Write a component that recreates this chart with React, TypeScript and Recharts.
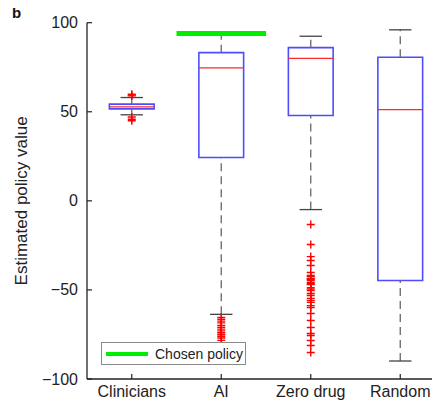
import React from "react";
import {
  ComposedChart,
  XAxis,
  YAxis,
  Scatter,
  ReferenceArea,
  ReferenceLine,
  Legend,
} from "recharts";

const categories = ["Clinicians", "AI", "Zero drug", "Random"];
const q1 = [51.6, 24.3, 47.9, -44.7];
const medians = [52.7, 74.6, 80, 51.2];
const q3 = [54.3, 83.2, 86, 80.6];
const whiskerLow = [48.3, -63.7, -4.9, -89.9];
const whiskerHigh = [58, 94, 92.4, 96];

const clinicianOutliers = [58.9, 59.4, 59.8, 47.1, 45.8, 45];
const aiOutliers = [-65.4, -66.5, -67.5, -68.5, -70, -71, -72, -73, -74, -75, -76, -77, -78.3];
const zeroDrugOutliers = [
  -13.3, -24.5, -31.3, -33.5, -36.3, -40.2, -41.9, -42.5, -43.6, -44, -44.7, -45.8,
  -46.5, -47, -48.7, -49.5, -50.3, -52, -53.1, -54.8, -56, -57, -58.8, -59.9, -63.2,
  -67.2, -71.1, -74.5, -75.6, -78.4, -81.2, -85.1,
];
const randomOutliers: number[] = [];
const outlierGroups = [clinicianOutliers, aiOutliers, zeroDrugOutliers, randomOutliers];

const chosenPolicyValue = 94;
const chosenPolicyFrom = 1.5;
const chosenPolicyTo = 2.5;

const yTicks = [-100, -50, 0, 50, 100];

const outlierData = outlierGroups.flatMap((vals, i) =>
  vals.map((v) => ({ x: i + 1, y: v }))
);

const FONT = '"Liberation Sans", Arial, Helvetica, sans-serif';
const BOX_HALF = 0.25;
const CAP_HALF = 0.125;

const fmt = (v: number) => (v < 0 ? "\u2212" + Math.abs(v) : String(v));

const YTick = (props: any) => {
  const { x, y, payload } = props;
  return (
    <g>
      <line x1={x + 9} x2={x + 14} y1={y} y2={y} stroke="#222" strokeWidth={1.2} />
      <text
        x={x}
        y={y}
        dy={5.5}
        textAnchor="end"
        fontFamily={FONT}
        fontSize={16}
        fill="#222"
      >
        {fmt(payload.value)}
      </text>
    </g>
  );
};

const XTick = (props: any) => {
  const { x, y, payload } = props;
  return (
    <g>
      <line x1={x} x2={x} y1={y} y2={y - 5} stroke="#222" strokeWidth={1.2} />
      <text
        x={x}
        y={y}
        dy={18}
        textAnchor="middle"
        fontFamily={FONT}
        fontSize={16}
        fill="#222"
      >
        {categories[payload.value - 1]}
      </text>
    </g>
  );
};

const Plus = (props: any) => {
  const { cx, cy } = props;
  if (cx == null || cy == null) return null;
  return (
    <g>
      <line x1={cx - 4} x2={cx + 4} y1={cy} y2={cy} stroke="#ff0000" strokeWidth={1.4} />
      <line x1={cx} x2={cx} y1={cy - 4} y2={cy + 4} stroke="#ff0000" strokeWidth={1.4} />
    </g>
  );
};

const LegendContent = () => (
  <div
    style={{
      boxSizing: "border-box",
      width: 145,
      height: 23,
      border: "1px solid #8a8a8a",
      background: "#fff",
      display: "flex",
      alignItems: "center",
      fontFamily: FONT,
      fontSize: 14,
      color: "#222",
    }}
  >
    <div style={{ width: 42, height: 4, background: "#00ee00", marginLeft: 4, marginRight: 7 }} />
    <span>Chosen policy</span>
  </div>
);

export default function App() {
  return (
    <div style={{ position: "relative", width: 432, height: 399 }}>
      <div
        style={{
          position: "absolute",
          left: 4,
          top: -4,
          fontFamily: FONT,
          fontWeight: "bold",
          fontSize: 15,
          lineHeight: "17px",
          color: "#111",
          zIndex: 2,
        }}
      >
        b
      </div>
      <div style={{ width: 432, height: 399, overflow: "hidden" }}>
        <ComposedChart
          width={437}
          height={399}
          margin={{ top: 14.7, right: 0, bottom: 0, left: 0 }}
        >
          <XAxis
            type="number"
            dataKey="x"
            domain={[0.5, 4.5]}
            ticks={[1, 2, 3, 4]}
            tick={<XTick />}
            tickSize={0}
            tickMargin={0}
            tickLine={false}
            axisLine={{ stroke: "#222", strokeWidth: 1.3 }}
            height={28}
            allowDataOverflow
          />
          <YAxis
            type="number"
            dataKey="y"
            domain={[-100, 100]}
            ticks={yTicks}
            tick={<YTick />}
            tickSize={0}
            tickMargin={9}
            tickLine={false}
            axisLine={{ stroke: "#222", strokeWidth: 1.3 }}
            width={79}
            allowDataOverflow
            label={{
              value: "Estimated policy value",
              angle: -90,
              position: "insideLeft",
              offset: 13,
              style: { textAnchor: "middle", fontFamily: FONT, fontSize: 17, fill: "#222" },
            }}
          />
          {categories.map((c, i) => (
            <ReferenceLine
              key={"wl" + c}
              segment={[
                { x: i + 1, y: whiskerLow[i] },
                { x: i + 1, y: q1[i] },
              ]}
              stroke="#666"
              strokeWidth={1.3}
              strokeDasharray="8 5"
              ifOverflow="visible"
            />
          ))}
          {categories.map((c, i) => (
            <ReferenceLine
              key={"wh" + c}
              segment={[
                { x: i + 1, y: q3[i] },
                { x: i + 1, y: whiskerHigh[i] },
              ]}
              stroke="#666"
              strokeWidth={1.3}
              strokeDasharray="8 5"
              ifOverflow="visible"
            />
          ))}
          {categories.map((c, i) => (
            <ReferenceLine
              key={"cl" + c}
              segment={[
                { x: i + 1 - CAP_HALF, y: whiskerLow[i] },
                { x: i + 1 + CAP_HALF, y: whiskerLow[i] },
              ]}
              stroke="#444"
              strokeWidth={1.3}
              ifOverflow="visible"
            />
          ))}
          {categories.map((c, i) => (
            <ReferenceLine
              key={"ch" + c}
              segment={[
                { x: i + 1 - CAP_HALF, y: whiskerHigh[i] },
                { x: i + 1 + CAP_HALF, y: whiskerHigh[i] },
              ]}
              stroke="#444"
              strokeWidth={1.3}
              ifOverflow="visible"
            />
          ))}
          {categories.map((c, i) => (
            <ReferenceArea
              key={"box" + c}
              x1={i + 1 - BOX_HALF}
              x2={i + 1 + BOX_HALF}
              y1={q1[i]}
              y2={q3[i]}
              fill="#ffffff"
              fillOpacity={1}
              stroke="#4d4dff"
              strokeWidth={1.6}
              ifOverflow="visible"
            />
          ))}
          {categories.map((c, i) => (
            <ReferenceLine
              key={"med" + c}
              segment={[
                { x: i + 1 - BOX_HALF, y: medians[i] },
                { x: i + 1 + BOX_HALF, y: medians[i] },
              ]}
              stroke="#ff2a2a"
              strokeWidth={1.2}
              ifOverflow="visible"
            />
          ))}
          <ReferenceLine
            segment={[
              { x: chosenPolicyFrom, y: chosenPolicyValue },
              { x: chosenPolicyTo, y: chosenPolicyValue },
            ]}
            stroke="#00ee00"
            strokeWidth={5}
            ifOverflow="visible"
          />
          <Scatter
            data={outlierData}
            dataKey="y"
            shape={<Plus />}
            isAnimationActive={false}
            legendType="none"
          />
          <Legend
            layout="horizontal"
            verticalAlign="middle"
            align="center"
            content={<LegendContent />}
            wrapperStyle={{ position: "absolute", left: 93, top: 334, width: 145, height: 23 }}
          />
        </ComposedChart>
      </div>
    </div>
  );
}
